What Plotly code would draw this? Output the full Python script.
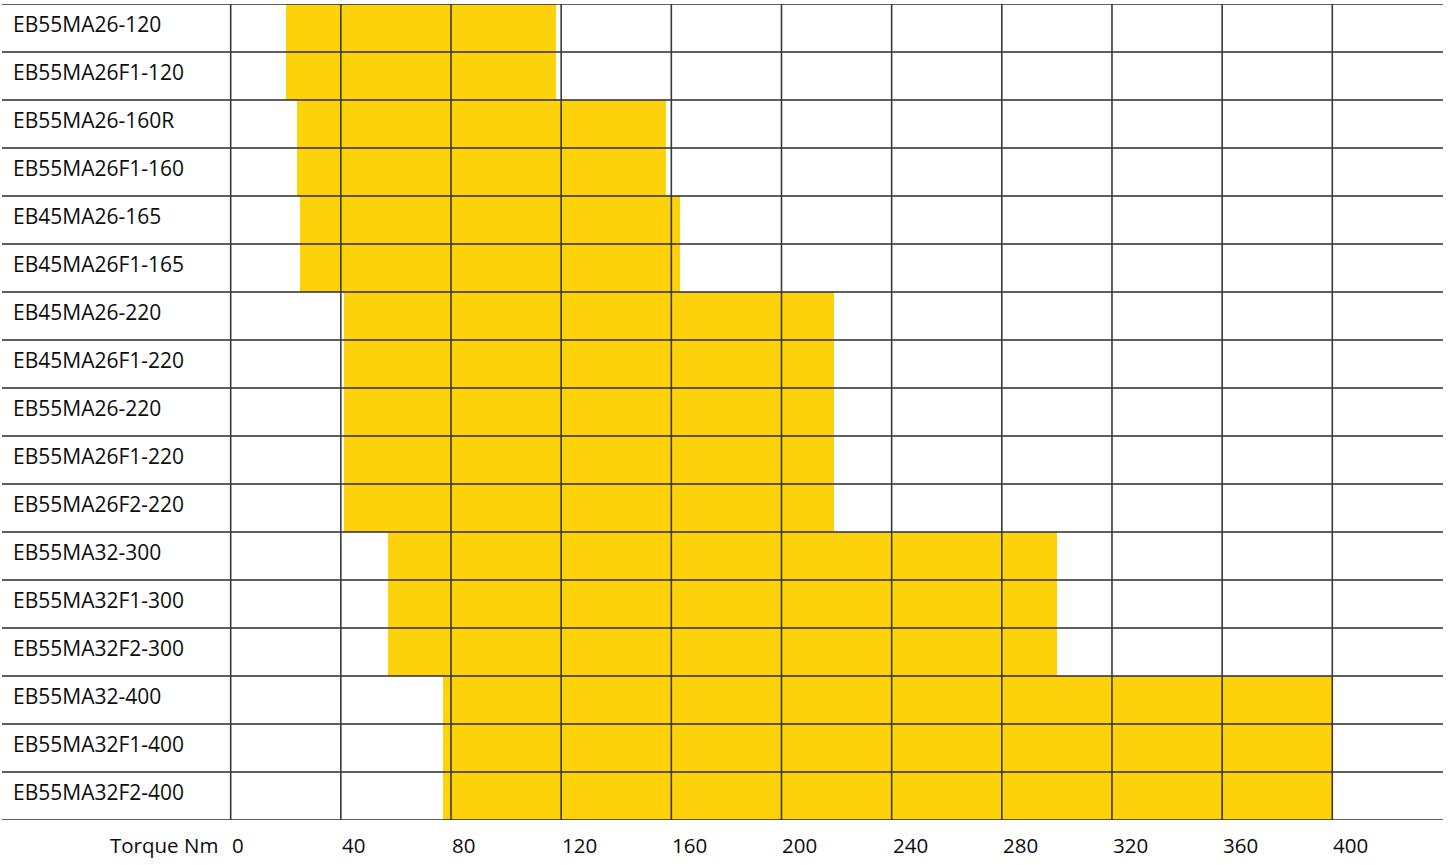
import plotly.graph_objects as go

# Torque ranges per actuator model
models = [
    "EB55MA26-120", "EB55MA26F1-120", "EB55MA26-160R", "EB55MA26F1-160",
    "EB45MA26-165", "EB45MA26F1-165", "EB45MA26-220", "EB45MA26F1-220",
    "EB55MA26-220", "EB55MA26F1-220", "EB55MA26F2-220", "EB55MA32-300",
    "EB55MA32F1-300", "EB55MA32F2-300", "EB55MA32-400", "EB55MA32F1-400",
    "EB55MA32F2-400",
]
torque_min = [20, 20, 24, 24, 25, 25, 41, 41, 41, 41, 41, 57, 57, 57, 77, 77, 77]
torque_max = [118, 118, 158, 158, 163, 163, 219, 219, 219, 219, 219, 300, 300, 300, 400, 400, 400]
tick_values = [0, 40, 80, 120, 160, 200, 240, 280, 320, 360, 400]
axis_label = "Torque Nm"

X_RANGE = [-83.04, 440.2]
FONT = "Open Sans"
BAR_COLOR = "#FED20B"
LINE_COLOR = "#2b2b2b"

rows = list(range(len(models)))

fig = go.Figure()
fig.add_trace(go.Bar(
    y=rows,
    x=[hi - lo for lo, hi in zip(torque_min, torque_max)],
    base=torque_min,
    orientation="h",
    width=1,
    marker=dict(color=BAR_COLOR, line=dict(width=0)),
    hoverinfo="skip",
    showlegend=False,
))

shapes = []
# horizontal row separators across the full width
for i in range(len(models) + 1):
    shapes.append(dict(
        type="line", xref="paper", yref="y", x0=0, x1=1, y0=i - 0.5, y1=i - 0.5,
        line=dict(color=LINE_COLOR, width=1.6), layer="above",
    ))
# vertical grid lines at each tick
for v in tick_values:
    shapes.append(dict(
        type="line", xref="x", yref="y", x0=v, x1=v, y0=-0.5, y1=len(models) - 0.5,
        line=dict(color="#3a3a3a", width=1.6), layer="above",
    ))

annotations = []
for i, name in enumerate(models):
    annotations.append(dict(
        x=0, xref="paper", y=i, yref="y", text=name, showarrow=False,
        xanchor="left", yanchor="middle", xshift=9, yshift=4,
        font=dict(family=FONT, size=21, color="#0d0d0d"),
    ))
for v in tick_values:
    annotations.append(dict(
        x=v, xref="x", y=0, yref="paper", text=str(v), showarrow=False,
        xanchor="left", yanchor="middle", yshift=-25, xshift=-1,
        font=dict(family=FONT, size=20.5, color="#0d0d0d"),
    ))
annotations.append(dict(
    x=0, xref="x", y=0, yref="paper", text=axis_label, showarrow=False,
    xanchor="right", yanchor="middle", yshift=-25, xshift=-11,
    font=dict(family=FONT, size=20.5, color="#0d0d0d"),
))

fig.update_layout(
    width=1448, height=865,
    margin=dict(l=2, r=5, t=4, b=45),
    paper_bgcolor="white", plot_bgcolor="white",
    bargap=0,
    xaxis=dict(range=X_RANGE, showgrid=False, zeroline=False, showticklabels=False,
               ticks="", showline=False, fixedrange=True),
    yaxis=dict(range=[len(models) - 0.5, -0.5], showgrid=False, zeroline=False,
               showticklabels=False, ticks="", showline=False, fixedrange=True),
    shapes=shapes,
    annotations=annotations,
    showlegend=False,
)

fig.write_html("out.html", config={"displayModeBar": False})
